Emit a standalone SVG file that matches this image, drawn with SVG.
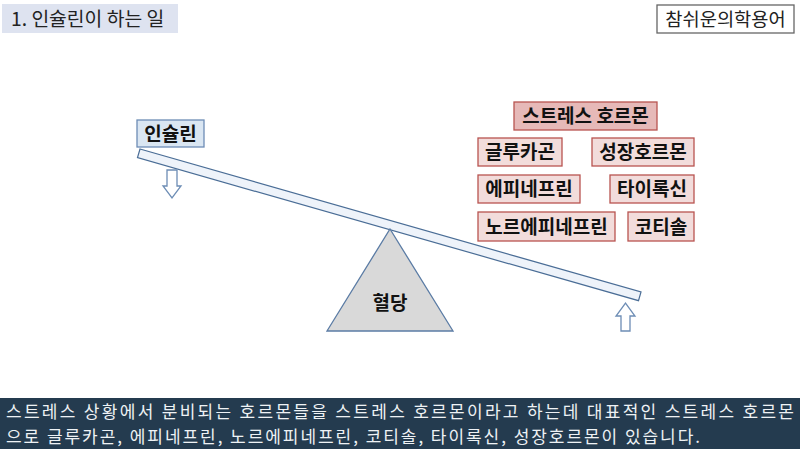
<svg xmlns="http://www.w3.org/2000/svg" width="800" height="449" viewBox="0 0 800 449">
<style>
text{font-family:"Noto Sans CJK KR","Noto Sans",sans-serif;}
.title{font-size:19.3px;fill:#222;}
.lbl{font-size:19px;font-weight:bold;fill:#111;text-anchor:middle;}
.red{fill:#f2dcdb;stroke:#b85450;stroke-width:1.3;}
.arrow{fill:#ffffff;stroke:#6d8db5;stroke-width:1.3;stroke-linejoin:miter;}
.cap{font-size:17px;fill:#eef2f5;}
</style>
<rect width="800" height="449" fill="#ffffff"/>
<g id="title">
<rect x="2" y="4" width="176" height="29" fill="#dee3f0"/>
<text class="title" x="11" y="26">1. 인슐린이 하는 일</text>
</g>
<g id="brand">
<rect x="657" y="5" width="137" height="28" fill="#ffffff" stroke="#666" stroke-width="1.3"/>
<text class="title" x="725.5" y="26" text-anchor="middle" style="font-size:18.7px">참쉬운의학용어</text>
</g>
<g id="beam">
<polygon points="140,149 641,292 638.5,300.7 137.5,157.7" fill="#eef3fa" stroke="#4a6d96" stroke-width="1.2"/>
</g>
<g id="fulcrum">
<polygon points="390,229 453,331 327,331" fill="#d9d9d9" stroke="#5b7ca5" stroke-width="1.3"/>
<text class="lbl" x="390" y="310">혈당</text>
</g>
<g id="insulin">
<rect x="137" y="120" width="67" height="27" fill="#dae6f2" stroke="#6d8db5" stroke-width="1.3"/>
<text class="lbl" x="170.5" y="141">인슐린</text>
</g>
<g id="connectors">
<polygon class="arrow" points="167,170 177,170 177,186 181,186 172,198 163,186 167,186"/>
<polygon class="arrow" points="621,331 630,331 630,316 635,316 625.5,303 616,316 621,316"/>
</g>
<g id="stress-hormone">
<rect x="514" y="102" width="143" height="28" fill="#e6b9b8" stroke="#b85450" stroke-width="1.3"/>
<text class="lbl" x="585.5" y="123">스트레스 호르몬</text>
</g>
<g id="glucagon">
<rect class="red" x="478" y="138" width="84" height="28"/>
<text class="lbl" x="520" y="159">글루카곤</text>
</g>
<g id="growth-hormone">
<rect class="red" x="592" y="138" width="102" height="28"/>
<text class="lbl" x="643" y="159">성장호르몬</text>
</g>
<g id="epinephrine">
<rect class="red" x="478" y="175" width="102" height="28"/>
<text class="lbl" x="529" y="196">에피네프린</text>
</g>
<g id="thyroxine">
<rect class="red" x="610" y="175" width="84" height="28"/>
<text class="lbl" x="652" y="196">타이록신</text>
</g>
<g id="norepinephrine">
<rect class="red" x="478" y="212" width="137" height="29"/>
<text class="lbl" x="546.5" y="234">노르에피네프린</text>
</g>
<g id="cortisol">
<rect class="red" x="628" y="212" width="66" height="29"/>
<text class="lbl" x="661" y="234">코티솔</text>
</g>
<g id="caption">
<rect x="0" y="398" width="800" height="51" fill="#243b4f"/>
<text class="cap" x="6" y="418" textLength="788" lengthAdjust="spacing">스트레스 상황에서 분비되는 호르몬들을 스트레스 호르몬이라고 하는데 대표적인 스트레스 호르몬</text>
<text class="cap" x="6" y="443" textLength="694" lengthAdjust="spacing">으로 글루카곤, 에피네프린, 노르에피네프린, 코티솔, 타이록신, 성장호르몬이 있습니다.</text>
</g>
</svg>
